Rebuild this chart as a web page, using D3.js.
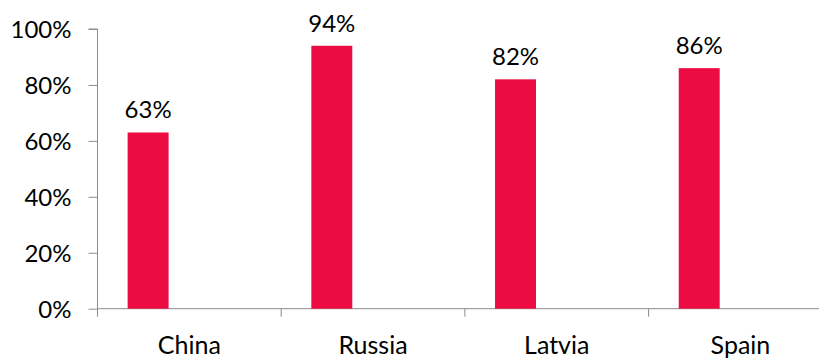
<!DOCTYPE html>
<html><head><meta charset="utf-8">
<script src="https://cdn.jsdelivr.net/npm/d3@7"></script>
<style>body{margin:0;background:#fff}svg{display:block}text{font-family:Lato,"Open Sans",sans-serif;fill:#000}</style>
</head><body>
<script>
const categories = ["China", "Russia", "Latvia", "Spain"];
const values = [63, 94, 82, 86];
const yTicks = [0, 20, 40, 60, 80, 100];

const W = 819, H = 358;
const svg = d3.select("body").append("svg").attr("width", W).attr("height", H);
const x = d3.scaleBand().domain(categories).range([97.5, 832.3]).padding(0);
const y = d3.scaleLinear().domain([0, 100]).range([308.7, 29]);
const axisColor = "#8c8c8c";
const bw = x.bandwidth();
const barOff = bw * 0.164, barW = bw * 0.223;
const fs = 24;

// y axis
const yAxis = d3.axisLeft(y).tickValues(yTicks).tickFormat(d => d + "%").tickSize(9).tickPadding(17);
const gy = svg.append("g").attr("transform", "translate(97.5,0)").call(yAxis);
gy.select(".domain").attr("stroke", axisColor).attr("d", `M-9,${y(100)}H0V${y(0)}`);
gy.selectAll(".tick line").attr("stroke", axisColor);
gy.selectAll(".tick text").attr("font-size", fs).attr("font-family", "Lato, sans-serif").attr("fill", "#000").attr("dy", "0.36em");

// x axis
const gx = svg.append("g").attr("transform", `translate(0,${y(0)})`);
gx.append("line").attr("x1", 97.5).attr("x2", 832.3).attr("stroke", axisColor);
gx.selectAll("line.sep").data(categories).join("line").attr("class", "sep")
  .attr("x1", d => x(d)).attr("x2", d => x(d))
  .attr("y1", 0).attr("y2", 8).attr("stroke", axisColor);
gx.append("line").attr("x1", 832.3).attr("x2", 832.3).attr("y1", 0).attr("y2", 8).attr("stroke", axisColor);
gx.selectAll("text").data(categories).join("text")
  .attr("x", d => x(d) + bw / 2).attr("y", 45).attr("text-anchor", "middle").attr("font-size", 25).text(d => d);

// bars
svg.selectAll("rect.bar").data(values).join("rect").attr("class", "bar")
  .attr("x", (d, i) => x(categories[i]) + barOff).attr("width", barW)
  .attr("y", d => y(d)).attr("height", d => y(0) - y(d)).attr("fill", "#EC0C43");

// value labels
svg.selectAll("text.val").data(values).join("text").attr("class", "val")
  .attr("x", (d, i) => x(categories[i]) + barOff + barW / 2).attr("y", d => y(d) - 14)
  .attr("text-anchor", "middle").attr("font-size", fs).text(d => d + "%");
</script>
</body></html>
